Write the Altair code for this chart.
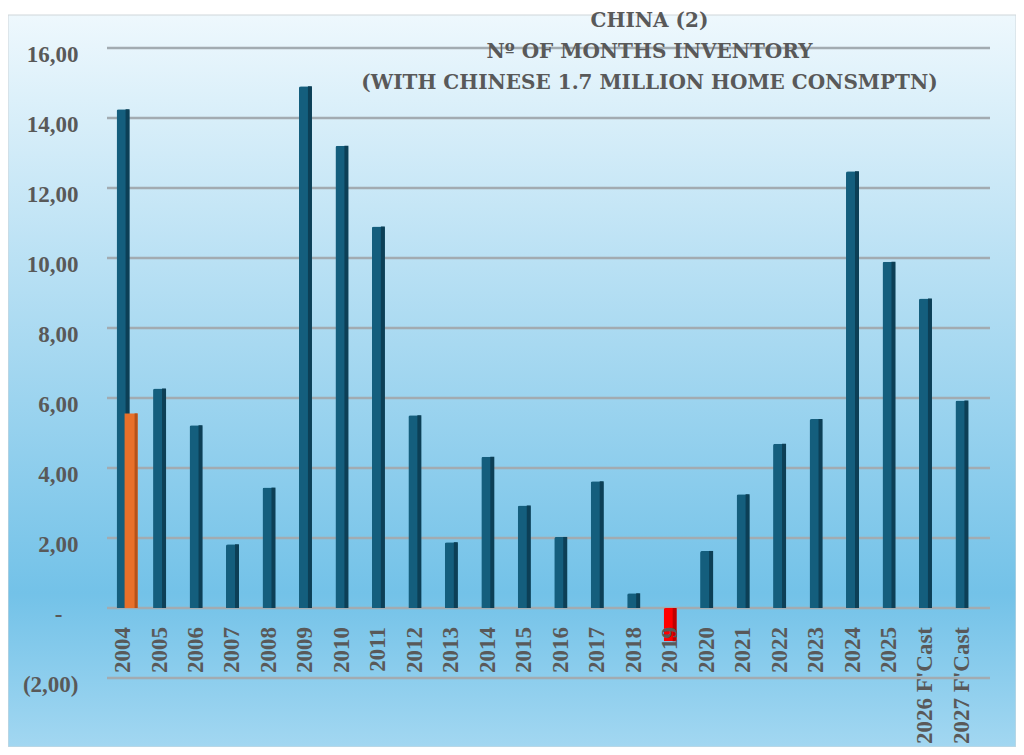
import altair as alt
import pandas as pd

categories = ["2004", "2005", "2006", "2007", "2008", "2009", "2010", "2011",
              "2012", "2013", "2014", "2015", "2016", "2017", "2018", "2019",
              "2020", "2021", "2022", "2023", "2024", "2025",
              "2026 F'Cast", "2027 F'Cast"]
months_inventory = [14.25, 6.27, 5.22, 1.82, 3.44, 14.91, 13.21, 10.90,
                    5.51, 1.88, 4.32, 2.93, 2.03, 3.62, 0.42, -0.95,
                    1.63, 3.25, 4.69, 5.40, 12.48, 9.89, 8.84, 5.93]
second_categories = ["2004"]
second_values = [5.56]
y_tick_values = [-2, 0, 2, 4, 6, 8, 10, 12, 14, 16]
y_tick_labels = ["(2,00)", "-", "2,00", "4,00", "6,00", "8,00",
                 "10,00", "12,00", "14,00", "16,00"]
title_lines = ["CHINA (2)", "Nº OF MONTHS INVENTORY",
               "(WITH CHINESE 1.7 MILLION HOME CONSMPTN)"]

main_df = pd.DataFrame({"category": categories, "value": months_inventory,
                        "zero": [0] * len(categories)})
second_df = pd.DataFrame({"category": second_categories, "value": second_values})
grid_df = pd.DataFrame({"value": y_tick_values})

label_expr = ""
for v, lab in zip(y_tick_values, y_tick_labels):
    label_expr += f"datum.value == {v} ? '{lab}' : "
label_expr += "''"

W, H = 895, 630
PAD_L, PAD_T, PAD_R, PAD_B = 87, 40, 26, 69

yscale = alt.Scale(domain=[-2, 16], nice=False, zero=False)
yaxis = alt.Axis(values=y_tick_values, labelExpr=label_expr, grid=False,
                 domain=False, ticks=False,
                 labelPadding={"condition": {"test": "datum.value == 0", "value": 33},
                               "value": 17},
                 labelOffset=6,
                 labelFont="Liberation Serif", labelFontWeight="bold",
                 labelFontSize=23, labelColor="#595959", title=None, zindex=1)
xenc = alt.X("category:N", sort=categories, axis=None,
             scale=alt.Scale(paddingInner=0, paddingOuter=0.27))

BLUE = "#145e7d"
BLUE_SIDE = "#0c3f56"
RED = "#ff0000"
RED_SIDE = "#c00000"
ORANGE = "#e8702a"
ORANGE_SIDE = "#b5521a"

background = alt.Chart(alt.Data(values=[{}])).mark_rect(
    fill=alt.Gradient(
        gradient="linear", x1=0, x2=0, y1=0, y2=1,
        stops=[alt.GradientStop(color="#eef8fd", offset=0),
               alt.GradientStop(color="#a8d9f1", offset=0.45),
               alt.GradientStop(color="#73c2e8", offset=0.79),
               alt.GradientStop(color="#a2d7f1", offset=1)]),
    stroke="#cfd6da", strokeWidth=1
).encode(x=alt.value(-PAD_L), x2=alt.value(W + PAD_R),
         y=alt.value(-33), y2=alt.value(H + PAD_B))

grid = alt.Chart(grid_df).mark_rule(color="#a2abb1", strokeWidth=2.5).encode(
    x=alt.value(12), x2=alt.value(W),
    y=alt.Y("value:Q", scale=yscale, axis=yaxis))

bars = alt.Chart(main_df).mark_bar(size=13, cornerRadiusTopLeft=2,
                                   cornerRadiusTopRight=2).encode(
    x=xenc,
    y=alt.Y("value:Q", scale=yscale, axis=yaxis),
    color=alt.condition(alt.datum.value < 0, alt.value(RED), alt.value(BLUE)))

bar_sides = alt.Chart(main_df).mark_bar(size=4, xOffset=4.5).encode(
    x=xenc,
    y=alt.Y("value:Q", scale=yscale, axis=yaxis),
    color=alt.condition(alt.datum.value < 0, alt.value(RED_SIDE), alt.value(BLUE_SIDE)))

second = alt.Chart(second_df).mark_bar(size=13, xOffset=8, color=ORANGE).encode(
    x=xenc, y=alt.Y("value:Q", scale=yscale, axis=yaxis))
second_side = alt.Chart(second_df).mark_bar(size=3, xOffset=13, color=ORANGE_SIDE).encode(
    x=xenc, y=alt.Y("value:Q", scale=yscale, axis=yaxis))

labels = alt.Chart(main_df).mark_text(
    angle=270, align="right", baseline="middle", yOffset=19,
    font="Liberation Serif", fontWeight="bold", fontSize=23, color="#595959"
).encode(x=xenc, y=alt.Y("zero:Q", scale=yscale, axis=yaxis), text="category:N")

chart = alt.layer(background, grid, bars, bar_sides, second, second_side, labels).properties(
    width=W, height=H,
    autosize=alt.AutoSizeParams(type="none"),
    padding={"left": PAD_L, "top": PAD_T, "right": PAD_R, "bottom": PAD_B},
    background="white",
    title=alt.TitleParams(text=title_lines, anchor="middle", frame="group",
                          dx=107, dy=78, offset=0, fontSize=20, lineHeight=31,
                          font="DejaVu Serif", fontWeight="bold",
                          color="#595959"),
).configure_view(stroke=None)

chart.save("out.html", embed_options={"renderer": "svg", "actions": False})
